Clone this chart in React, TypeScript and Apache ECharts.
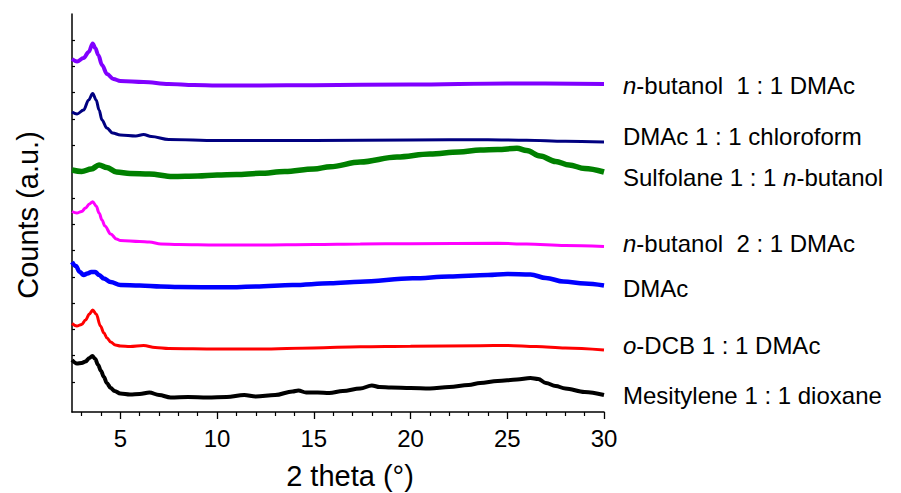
import React, { useEffect, useRef } from "react";
import * as echarts from "echarts";

const FONT = "'Liberation Sans', Arial, Helvetica, sans-serif";

// [2theta, counts (a.u., offset stacked)]
const mesitylene: number[][] = [
  [2.5, 52], [2.75, 48.5], [3.0, 49], [3.2, 50.5], [3.4, 54], [3.55, 56], [3.7, 53], [3.85, 47],
  [4.0, 41], [4.15, 35], [4.3, 29], [4.5, 24], [4.7, 21], [5.0, 18.5], [5.5, 17.5], [6.0, 18],
  [6.5, 19.5], [7.0, 17], [7.6, 14.5], [8.5, 15], [9.5, 14.5], [10.5, 15], [11.4, 17], [12.0, 15.5],
  [13.0, 17], [13.9, 20.5], [14.2, 21.5], [14.6, 19.5], [15.2, 19.5], [15.8, 19], [16.5, 21],
  [17.4, 23.5], [18.0, 26.5], [18.4, 25], [19.0, 24.5], [20.0, 24], [21.0, 23.5], [22.0, 25],
  [23.0, 27], [23.6, 29], [24.5, 31], [25.5, 32.5], [26.2, 34], [26.6, 33], [27.0, 29], [27.5, 26],
  [28.0, 23.5], [29.0, 20], [30.0, 17],
];
const oDCB: number[][] = [
  [2.5, 88.5], [2.75, 86], [3.0, 87.5], [3.2, 92], [3.4, 98], [3.57, 102], [3.75, 98], [3.97, 86],
  [4.15, 79], [4.31, 74], [4.5, 70], [4.74, 67], [5.0, 66], [5.5, 65.5], [6.2, 66.5], [6.8, 64.5],
  [7.5, 63.5], [10, 63], [12.2, 63], [15, 64], [17.4, 65.3], [20, 65.8], [23.6, 66.3], [25, 66.5],
  [26.5, 65.5], [28, 64], [30, 62],
];
const dmac: number[][] = [
  [2.5, 150], [2.7, 146], [2.9, 140], [3.1, 137], [3.3, 138.5], [3.5, 140], [3.7, 140], [3.9, 137],
  [4.14, 133.5], [4.5, 130], [5.0, 127], [6.0, 126.5], [7.1, 125.5], [8.0, 125], [10.5, 124.7],
  [12, 125.5], [13.9, 127], [15.85, 128.7], [17.4, 130.3], [20.1, 133.7], [22, 135.5], [24, 137],
  [25, 138], [26.2, 137.5], [27, 134], [27.9, 130.5], [29, 128.5], [30, 126.5],
];
const butanol21: number[][] = [
  [2.5, 200.5], [2.75, 199], [3.0, 200.5], [3.2, 204], [3.4, 208], [3.57, 210.3], [3.75, 206],
  [3.9, 199], [4.05, 192], [4.2, 186], [4.5, 178], [4.8, 173], [5.0, 171.5], [6.0, 170.5],
  [6.5, 170], [7.1, 168], [8, 167.5], [10, 167], [12.2, 167], [15, 167.5], [17.4, 168], [20, 168.3],
  [24.5, 168.7], [26, 168], [28, 166.5], [30, 165.5],
];
const sulfolane: number[][] = [
  [2.5, 242], [3.0, 240.5], [3.5, 243], [3.9, 247], [4.3, 244.5], [4.8, 240], [5.5, 238.5],
  [6.5, 238], [7.7, 235.5], [9, 236], [10, 237], [11, 237.5], [12.2, 238.7], [13.5, 240.5],
  [15, 243], [15.85, 245.3], [17.4, 250], [19.3, 255], [21, 258], [22.5, 260], [23.6, 262],
  [24.5, 262.5], [25.5, 263.7], [26, 261.5], [26.7, 256], [27.5, 250.5], [28.2, 247], [29, 243.5],
  [30, 240],
];
const dmacChloroform: number[][] = [
  [2.5, 300], [2.76, 298], [3.1, 302], [3.36, 312], [3.57, 318.5], [3.75, 312], [3.9, 302],
  [4.05, 292], [4.3, 284], [4.6, 279], [5.0, 277], [5.8, 276], [6.2, 277.5], [6.6, 275.5],
  [7.5, 272.5], [10, 271.5], [15, 271.5], [20, 272], [24, 272.3], [26, 271.8], [28, 270.8], [30, 270],
];
const butanol11: number[][] = [
  [2.5, 353], [2.76, 350.5], [3.1, 354], [3.36, 360], [3.57, 368.5], [3.7, 364], [3.86, 357],
  [4.05, 347], [4.31, 338], [4.64, 333], [5.0, 331], [6.2, 330], [7.5, 328], [8.8, 327],
  [10, 326.5], [12.2, 326.5], [15, 326.8], [20, 327.5], [25, 328.5], [30, 328],
];

const xMajorTicks = [5, 10, 15, 20, 25, 30];
const xMinorTicks = [3, 4, 6, 7, 8, 9, 11, 12, 13, 14, 16, 17, 18, 19, 21, 22, 23, 24, 26, 27, 28, 29];
const yTicks = [30, 56.3, 82.6, 108.9, 135.2, 161.5, 187.8, 214.1, 240.4, 266.7, 293, 319.3, 345.6, 372];

const seriesDefs = [
  { name: "Mesitylene 1 : 1 dioxane", data: mesitylene, color: "#000000", width: 4 },
  { name: "o-DCB 1 : 1 DMAc", data: oDCB, color: "#FF0000", width: 3 },
  { name: "DMAc", data: dmac, color: "#0000FF", width: 4.5 },
  { name: "n-butanol 2 : 1 DMAc", data: butanol21, color: "#FF00FF", width: 3 },
  { name: "Sulfolane 1 : 1 n-butanol", data: sulfolane, color: "#008000", width: 5.5 },
  { name: "DMAc 1 : 1 chloroform", data: dmacChloroform, color: "#000080", width: 3 },
  { name: "n-butanol 1 : 1 DMAc", data: butanol11, color: "#8000FF", width: 4 },
];

const curveLabels = [
  { text: "{i|n}{r|-butanol  1 : 1 DMAc}", y: 85 },
  { text: "{r|DMAc 1 : 1 chloroform}", y: 136.5 },
  { text: "{r|Sulfolane 1 : 1 }{i|n}{r|-butanol}", y: 177 },
  { text: "{i|n}{r|-butanol  2 : 1 DMAc}", y: 243 },
  { text: "{r|DMAc}", y: 288 },
  { text: "{i|o}{r|-DCB 1 : 1 DMAc}", y: 345 },
  { text: "{r|Mesitylene 1 : 1 dioxane}", y: 395 },
];

export default function App() {
  const ref = useRef<HTMLDivElement>(null);
  useEffect(() => {
    if (!ref.current) return;
    const chart = echarts.init(ref.current, undefined, { renderer: "svg" });
    const rich = {
      r: { fontSize: 24, fontFamily: FONT, color: "#000" },
      i: { fontSize: 24, fontFamily: FONT, color: "#000", fontStyle: "italic" },
    };
    chart.setOption({
      animation: false,
      backgroundColor: "#fff",
      grid: { left: 72, right: 297, top: 14, bottom: 81, containLabel: false },
      xAxis: [
        {
          type: "value",
          min: 2.5,
          max: 30,
          position: "bottom",
          axisLine: { show: true, lineStyle: { color: "#000", width: 1.5 } },
          axisTick: { show: true, customValues: xMajorTicks, length: 7, inside: false, lineStyle: { color: "#000", width: 1.3 } },
          axisLabel: { show: true, customValues: xMajorTicks, fontSize: 24, fontFamily: FONT, color: "#000", margin: 14 },
          splitLine: { show: false },
        },
        {
          type: "value",
          min: 2.5,
          max: 30,
          position: "bottom",
          axisLine: { show: false },
          axisTick: { show: true, customValues: xMinorTicks, length: 4, inside: false, lineStyle: { color: "#000", width: 1.2 } },
          axisLabel: { show: false },
          splitLine: { show: false },
        },
      ],
      yAxis: {
        type: "value",
        min: 0,
        max: 398,
        axisLine: { show: true, lineStyle: { color: "#000", width: 1.5 } },
        axisTick: { show: true, customValues: yTicks, length: 3, inside: true, lineStyle: { color: "#000", width: 1.2 } },
        axisLabel: { show: false },
        splitLine: { show: false },
      },
      series: seriesDefs.map((s) => ({
        name: s.name,
        type: "line",
        xAxisIndex: 0,
        data: s.data,
        showSymbol: false,
        smooth: 0.35,
        smoothMonotone: "x",
        lineStyle: { color: s.color, width: s.width },
        itemStyle: { color: s.color },
        silent: true,
      })),
      graphic: [
        ...curveLabels.map((l) => ({
          type: "text",
          x: 623,
          y: l.y,
          style: { text: l.text, rich, fontSize: 24, fontFamily: FONT, fill: "#000", verticalAlign: "middle", align: "left" },
        })),
        {
          type: "text",
          x: 350,
          y: 476,
          style: { text: "2 theta (°)", fontSize: 29, fontFamily: FONT, fill: "#000", align: "center", verticalAlign: "middle" },
        },
        {
          type: "text",
          x: 28,
          y: 215,
          rotation: Math.PI / 2,
          style: { text: "Counts (a.u.)", fontSize: 29, fontFamily: FONT, fill: "#000", align: "center", verticalAlign: "middle" },
        },
      ],
    });
    return () => chart.dispose();
  }, []);
  return <div ref={ref} style={{ width: 901, height: 493, position: "absolute", left: 0, top: 0 }} />;
}
